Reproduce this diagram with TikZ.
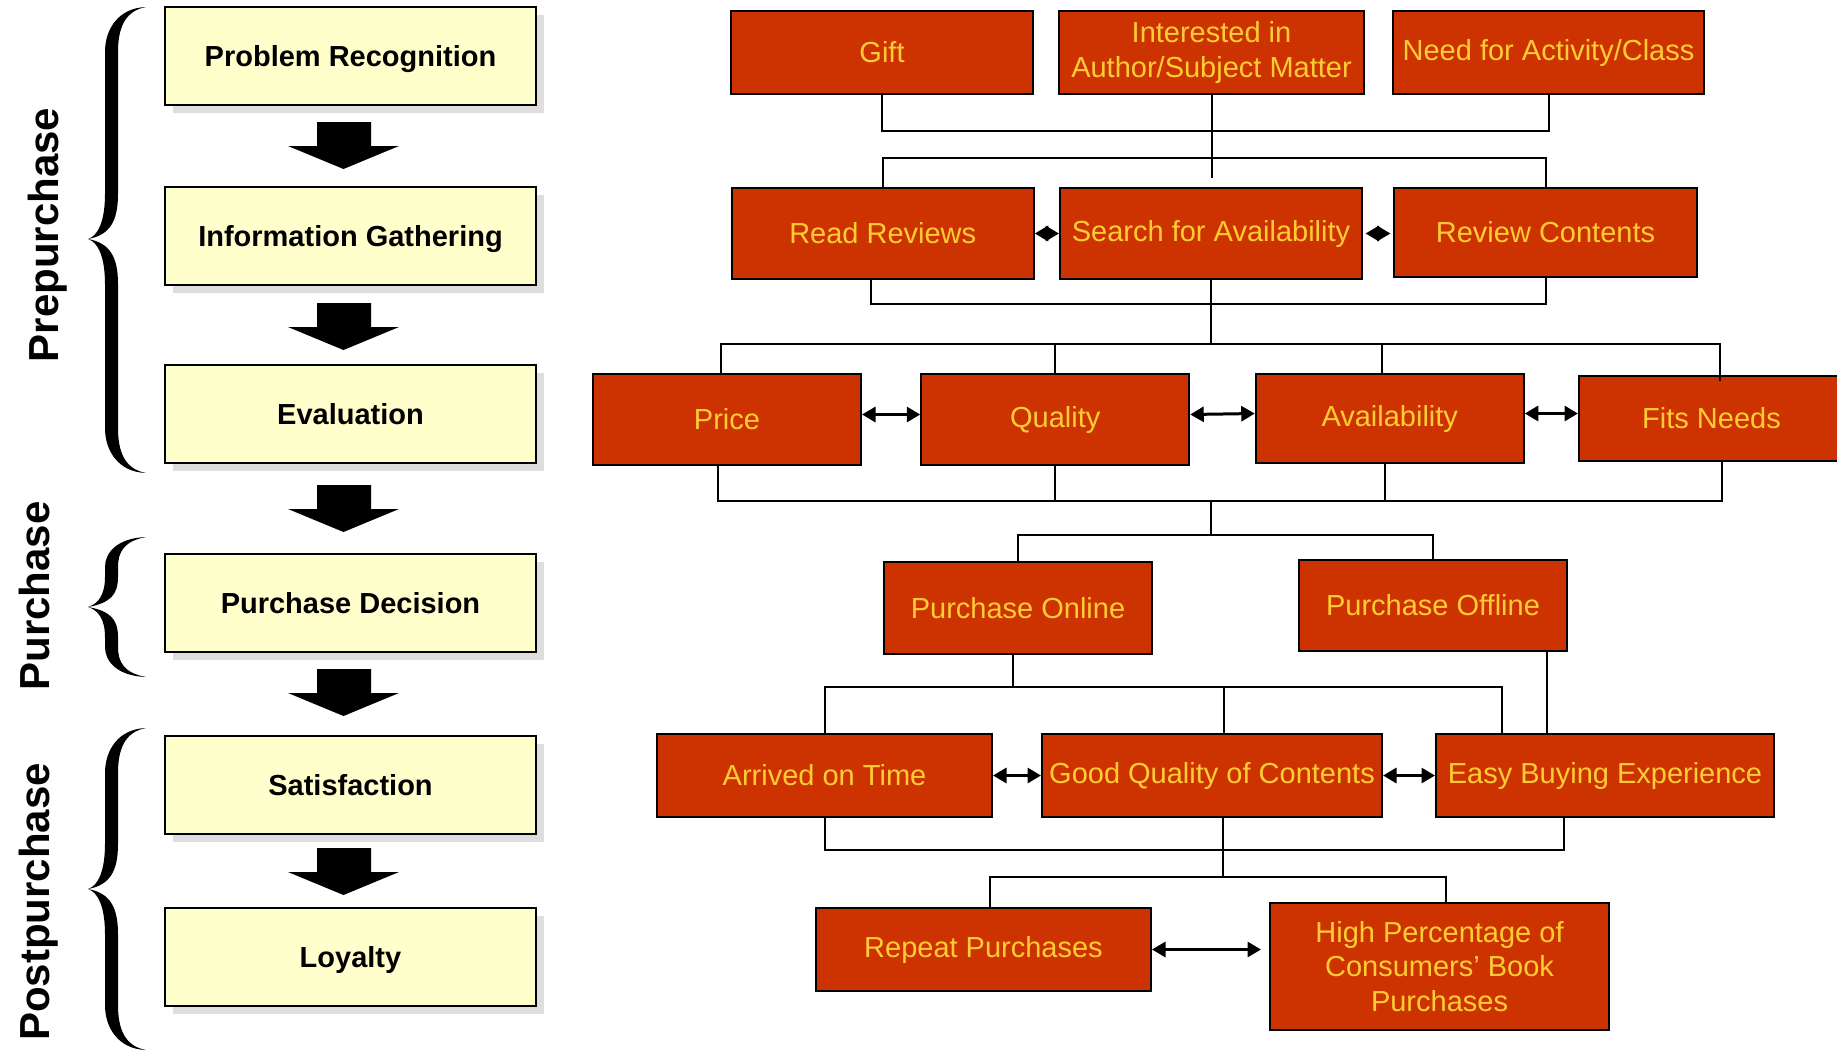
\documentclass[tikz,border=0pt]{standalone}
\usepackage{fontspec}
\setmainfont{Liberation Sans}
\usepackage{tikz}
\usetikzlibrary{calc,arrows.meta,shadows}

\definecolor{boxred}{HTML}{CC3300}
\definecolor{boxgold}{HTML}{FFCC33}
\definecolor{boxcream}{HTML}{FFFFCC}

% curly brace: x of tips, y top, y cusp, y bottom, length of the bends
\newcommand{\phasebrace}[5]{%
  \fill[xshift=#1pt]
    (0,#2) .. controls (-28,#2+1) and (-41,#2+#5*0.5) .. (-41,#2+#5)
    -- (-41,#3-#5)
    .. controls (-41,#3-#5*0.4) and (-48,#3-3) .. (-58,#3)
    .. controls (-48,#3+3) and (-41,#3+#5*0.4) .. (-41,#3+#5)
    -- (-41,#4-#5)
    .. controls (-41,#4-#5*0.5) and (-28,#4-1) .. (0,#4)
    .. controls (-22,#4-4) and (-28,#4-#5*0.5) .. (-28,#4-#5)
    -- (-28,#3+#5)
    .. controls (-28,#3+#5*0.4) and (-36,#3+4) .. (-58,#3)
    .. controls (-36,#3-4) and (-28,#3-#5*0.4) .. (-28,#3-#5)
    -- (-28,#2+#5)
    .. controls (-28,#2+#5*0.5) and (-22,#2+4) .. (0,#2)
    -- cycle;}

\tikzset{
  stage/.style={draw, line width=2pt, fill=boxcream, inner sep=2pt,
    minimum width=371pt, minimum height=98pt, text height=21pt, text depth=0pt,
    font=\bfseries\fontsize{29}{34.5}\selectfont,
    drop shadow={shadow xshift=8pt, shadow yshift=-8pt, fill=black!13, opacity=1}},
  factor/.style 2 args={draw, line width=2pt, fill=boxred, text=boxgold,
    inner sep=2pt, align=center, minimum width=#1pt, minimum height=#2pt,
    font=\fontsize{29}{34.5}\selectfont},
  link/.style={line width=2pt},
  biarrow/.style={line width=3pt,
    {Triangle[length=13.5pt,width=15pt]}-{Triangle[length=13.5pt,width=15pt]}},
  phase/.style={rotate=90, anchor=base, font=\bfseries\fontsize{42}{50}\selectfont}
}

\begin{document}
\begin{tikzpicture}[x=1pt, y=-1pt]
  \useasboundingbox (0,0) rectangle (1837,1050);

  % stages of the decision process
  \node[stage] (pr)  at (350.5,56)  {Problem Recognition};
  \node[stage] (ig)  at (350.5,235.5) {Information Gathering};
  \node[stage] (ev)  at (350.5,414) {Evaluation};
  \node[stage] (pd)  at (350.5,602.5) {Purchase Decision};
  \node[stage] (sat) at (350.5,785) {Satisfaction};
  \node[stage] (loy) at (350.5,957) {Loyalty};

  \foreach \y in {122,303,485,669,848}
    \fill (317,\y) -- (371,\y) -- (371,\y+24) -- (399,\y+24)
          -- (343.5,\y+47) -- (288,\y+24) -- (317,\y+24) -- cycle;

  % phases
  \phasebrace{146}{7}{239}{473}{45}
  \phasebrace{146}{537}{607}{677}{30}
  \phasebrace{146}{728}{889}{1050}{45}
  \node[phase] (lpre)  at (58,235) {Prepurchase};
  \node[phase] (lpur)  at (49,596) {Purchase};
  \node[phase] (lpost) at (49,902) {Postpurchase};

  % motives
  \node[factor={302}{83}] (gift)     at (882,52.5)    {Gift};
  \node[factor={305}{83}] (interest) at (1211.5,52.5) {Interested in\\Author/Subject Matter};
  \node[factor={311}{83}] (need)     at (1548.5,52.5) {Need for Activity/Class};
  % information
  \node[factor={302}{91}] (reviews)  at (882.75,233.5) {Read Reviews};
  \node[factor={302}{91}] (search)   at (1211,233.5)   {Search for Availability};
  \node[factor={303}{89}] (contents) at (1545.5,232.5) {Review Contents};
  % evaluation
  \node[factor={268}{91}] (price)    at (727,419.5)     {Price};
  \node[factor={268}{91}] (quality)  at (1055.25,419.5) {Quality};
  \node[factor={268}{89}] (avail)    at (1389.75,418.5) {Availability};
  \node[factor={265}{85}] (fits)     at (1711.5,418.5)  {Fits Needs};
  % purchase
  \node[factor={268}{92}] (online)   at (1018,608)    {Purchase Online};
  \node[factor={268}{91}] (offline)  at (1433,605.5)  {Purchase Offline};
  % postpurchase
  \node[factor={335}{83}] (ontime)   at (824.5,775.5) {Arrived on Time};
  \node[factor={340}{83}] (goodq)    at (1212,775.5)  {Good Quality of Contents};
  \node[factor={338}{83}] (easy)     at (1605,775.5)  {Easy Buying Experience};
  \node[factor={335}{83}] (repeat)   at (983.5,949.5) {Repeat Purchases};
  \node[factor={339}{127}] (highpct) at (1439.5,966.5) {High Percentage of\\Consumers’ Book\\Purchases};

  % levels of the connecting lines
  \coordinate (busA) at (0,131);
  \coordinate (busB) at (0,158);
  \coordinate (busC) at (0,304);
  \coordinate (busD) at (0,344);
  \coordinate (busE) at (0,501);
  \coordinate (busF) at (0,535);
  \coordinate (busG) at (0,687);
  \coordinate (busH) at (0,850);
  \coordinate (busI) at (0,877);
  \coordinate (rvout)  at ([xshift=-12pt]reviews.south);
  \coordinate (prin)   at ([xshift=-6pt]price.north);
  \coordinate (prout)  at ([xshift=-9pt]price.south);
  \coordinate (avin)   at ([xshift=-8pt]avail.north);
  \coordinate (avout)  at ([xshift=-5pt]avail.south);
  \coordinate (fitin)  at ([xshift=8.5pt,yshift=-6pt]fits.north);
  \coordinate (fitout) at ([xshift=10pt]fits.south);
  \coordinate (onout)  at ([xshift=-5pt]online.south);
  \coordinate (offout) at ([xshift=114pt]offline.south);
  \coordinate (easyin) at ([xshift=-103pt]easy.north);
  \coordinate (easyout) at ([xshift=-41pt]easy.south);
  \coordinate (gqin)  at ([xshift=12pt]goodq.north);
  \coordinate (gqout) at ([xshift=11pt]goodq.south);
  \coordinate (rpin)  at ([xshift=6.5pt]repeat.north);
  \coordinate (hpin)  at ([xshift=6.5pt]highpct.north);

  \draw[link] (gift.south) |- (busA -| need.south) -- (need.south);
  \draw[link, shorten >=9pt] (interest.south) -- (interest.south |- search.north);
  \draw[link] (reviews.north) |- (busB -| contents.north) -- (contents.north);

  \draw[link] (rvout) |- (busC -| contents.south) -- (contents.south);
  \draw[link] (search.south) -- (search.south |- busD);
  \draw[link] (prin) |- (busD -| fitin) -- (fitin);
  \draw[link] (quality.north) -- (quality.north |- busD);
  \draw[link] (avin) -- (avin |- busD);

  \draw[link] (prout) |- (busE -| fitout) -- (fitout);
  \draw[link] (quality.south) -- (quality.south |- busE);
  \draw[link] (avout) -- (avout |- busE);
  \draw[link] (busE -| search.south) -- (busF -| search.south);
  \draw[link] (online.north) |- (busF -| offline.north) -- (offline.north);

  \draw[link] (onout) -- (onout |- busG);
  \draw[link] (ontime.north) |- (busG -| easyin) -- (easyin);
  \draw[link] (gqin) -- (gqin |- busG);
  \draw[link] (offout) -- (offout |- easy.north);

  \draw[link] (ontime.south) |- (busH -| easyout) -- (easyout);
  \draw[link] (gqout) -- (gqout |- busI);
  \draw[link] (rpin) |- (busI -| hpin) -- (hpin);

  % mutual influences
  \draw[biarrow] (reviews.east) -- (search.west);
  \draw[biarrow, shorten <=2.5pt, shorten >=2.5pt] (search.east) -- (search.east -| contents.west);
  \begin{scope}[transform canvas={yshift=5pt}]
    \draw[biarrow] (price.east) -- (quality.west);
    \draw[biarrow] (quality.east) -- (avail.west);
    \draw[biarrow] (avail.east) -- (fits.west);
  \end{scope}
  \draw[biarrow] (ontime.east) -- (goodq.west);
  \draw[biarrow] (goodq.east) -- (easy.west);
  \draw[biarrow, shorten >=8pt] (repeat.east) -- (repeat.east -| highpct.west);
\end{tikzpicture}
\end{document}
